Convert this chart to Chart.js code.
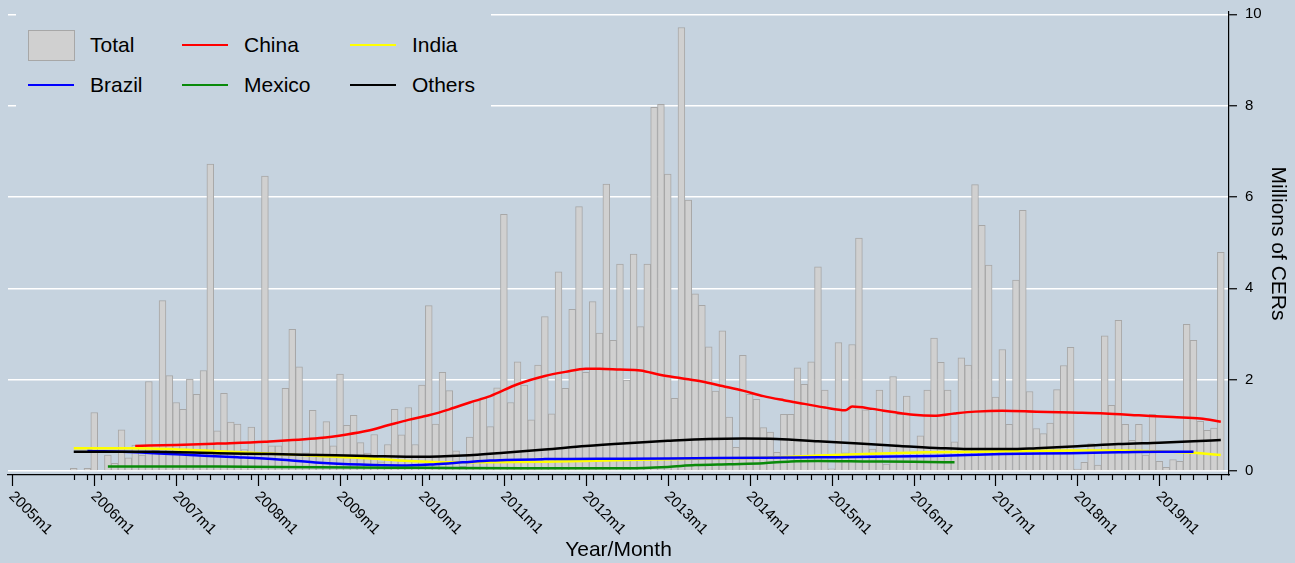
<!DOCTYPE html>
<html>
<head>
<meta charset="utf-8">
<title>CERs by month</title>
<script src="https://cdn.jsdelivr.net/npm/chart.js@4.4.1/dist/chart.umd.min.js"></script>
<style>
  body { margin: 0; background: #c6d3df; font-family: "Liberation Sans", Arial, sans-serif; }
  #wrap { position: relative; width: 1295px; height: 563px; }
  #legend { position: absolute; left: 16px; top: 0; width: 475px; height: 110px; background: #c6d3df; }
  .key { position: absolute; }
  .txt { position: absolute; font-size: 21px; line-height: 24px; color: #000; white-space: nowrap; }
</style>
</head>
<body>
<div id="wrap">
  <canvas id="cerChart" width="1295" height="563"></canvas>
  <div id="legend"></div>
</div>
<script>
// month index: 0 = 2005m1
const totalStart = 9; // 2005m10
const total = [
  0.06, null, 0.06, 1.28, null, 0.35, 0.17, 0.9, 0.29, 0.57, 0.35, 1.96, 0.45, 3.73, 2.09,
  1.5, 1.35, 2.01, 1.68, 2.2, 6.72, 0.88, 1.7, 1.07, 1.03, 0.47, 0.96, 0.4, 6.46, 0.55,
  0.55, 1.81, 3.1, 2.28, 0.4, 1.33, 0.72, 1.08, 0.55, 2.12, 1.0, 1.22, 0.62, 0.39, 0.8,
  0.2, 0.58, 1.35, 0.79, 1.39, 0.58, 1.88, 3.62, 1.03, 2.16, 1.76, 0.44, 0.1, 0.74, 1.54,
  1.6, 0.97, 1.82, 5.62, 1.5, 2.39, 1.88, 1.12, 2.32, 3.38, 1.25, 4.36, 1.81, 3.54, 5.79,
  2.16, 3.71, 3.02, 6.28, 2.86, 4.53, 1.99, 4.75, 3.16, 4.53, 7.96, 8.03, 6.5, 1.59, 9.71,
  5.93, 3.88, 3.63, 2.72, 1.75, 3.07, 1.18, 0.52, 2.53, 1.68, 1.57, 0.95, 0.85, 0.41, 1.24,
  1.24, 2.26, 1.9, 2.39, 4.47, 1.77, 0.05, 2.81, 0.4, 2.77, 5.1, 1.34, 0.48, 1.77, 0.15,
  2.07, 1.24, 1.64, 0.42, 0.77, 1.77, 2.91, 2.38, 1.77, 0.64, 2.48, 2.32, 6.27, 5.38, 4.51,
  1.62, 2.66, 1.02, 4.18, 5.71, 1.74, 0.93, 0.82, 1.05, 1.78, 2.31, 2.71, 0.04, 0.19, 0.6,
  0.13, 2.96, 1.44, 3.3, 1.02, 0.67, 1.02, 0.35, 1.24, 0.21, 0.08, 0.25, 0.21, 3.21, 2.86,
  1.09, 0.89, 0.94, 4.79
];

// [month index, value]
const china = [
  [18, 0.55], [24, 0.57], [30, 0.6], [37, 0.64], [45, 0.72], [49, 0.8], [52, 0.88], [55, 1.0],
  [58, 1.12], [61, 1.22], [64, 1.35], [67, 1.5], [70, 1.64], [74, 1.9], [78, 2.08], [81, 2.17],
  [84, 2.24], [86, 2.24], [89, 2.22], [92, 2.2], [95, 2.1], [98, 2.03], [101, 1.96], [104, 1.86],
  [107, 1.76], [110, 1.64], [113, 1.55], [116, 1.47], [119, 1.39], [122, 1.33], [123, 1.41],
  [126, 1.36], [129, 1.29], [132, 1.23], [135, 1.21], [138, 1.26], [141, 1.3], [145, 1.32],
  [150, 1.3], [155, 1.28], [160, 1.26], [165, 1.22], [170, 1.18], [174, 1.15], [177, 1.08]
];
const india = [
  [9, 0.5], [18, 0.5], [28, 0.45], [38, 0.38], [45, 0.33], [52, 0.28], [58, 0.22], [64, 0.19],
  [70, 0.19], [78, 0.2], [90, 0.24], [100, 0.27], [110, 0.29], [118, 0.34], [126, 0.38],
  [134, 0.41], [145, 0.43], [155, 0.45], [162, 0.45], [168, 0.43], [173, 0.4], [177, 0.35]
];
const brazil = [
  [11, 0.44], [18, 0.41], [26, 0.35], [33, 0.3], [39, 0.25], [45, 0.18], [51, 0.14], [57, 0.12],
  [62, 0.15], [66, 0.19], [70, 0.23], [78, 0.26], [90, 0.27], [100, 0.28], [110, 0.29],
  [118, 0.3], [126, 0.31], [135, 0.33], [145, 0.37], [155, 0.39], [162, 0.41], [168, 0.42], [173, 0.42]
];
const mexico = [
  [14, 0.1], [30, 0.1], [45, 0.08], [60, 0.07], [75, 0.06], [90, 0.06], [96, 0.09], [100, 0.13],
  [105, 0.15], [110, 0.17], [114, 0.21], [118, 0.22], [125, 0.21], [132, 0.2], [138, 0.19]
];
const others = [
  [9, 0.42], [20, 0.42], [30, 0.39], [38, 0.37], [45, 0.35], [52, 0.33], [60, 0.31], [66, 0.34],
  [72, 0.4], [78, 0.47], [84, 0.55], [90, 0.61], [96, 0.66], [102, 0.7], [107, 0.71], [112, 0.7],
  [118, 0.65], [124, 0.6], [130, 0.55], [136, 0.5], [140, 0.48], [146, 0.48], [150, 0.5],
  [156, 0.54], [162, 0.59], [168, 0.62], [173, 0.65], [177, 0.68]
];

const yearTicks = [0, 12, 24, 36, 48, 60, 72, 84, 96, 108, 120, 132, 144, 156, 168];
const yearLabels = ['2005m1', '2006m1', '2007m1', '2008m1', '2009m1', '2010m1', '2011m1', '2012m1',
  '2013m1', '2014m1', '2015m1', '2016m1', '2017m1', '2018m1', '2019m1'];
const yTicks = [0, 2, 4, 6, 8, 10];

const FONT = '"Liberation Sans", Arial, Helvetica, sans-serif';
Chart.defaults.font.family = FONT;
Chart.defaults.color = '#000';

const minorTicks = [];
for (let m = totalStart; m <= totalStart + total.length - 1; m += 2) minorTicks.push(m);

function toPoints(pairs) {
  return pairs.map(p => ({ x: p[0], y: p[1] }));
}
function lineSet(label, pairs, color) {
  return {
    type: 'line', label: label, data: toPoints(pairs),
    borderColor: color, borderWidth: 2.5, pointRadius: 0,
    cubicInterpolationMode: 'monotone', fill: false
  };
}

const xAxisMarks = {
  id: 'xAxisMarks',
  afterDraw(chart) {
    const ctx = chart.ctx;
    const x = chart.scales.x;
    const y0 = x.top;
    ctx.save();
    ctx.strokeStyle = '#000';
    ctx.lineWidth = 1.2;
    ctx.beginPath();
    minorTicks.forEach(m => {
      const px = Math.round(x.getPixelForValue(m)) + 0.5;
      ctx.moveTo(px, y0); ctx.lineTo(px, y0 + 5);
    });
    yearTicks.forEach(m => {
      const px = Math.round(x.getPixelForValue(m)) + 0.5;
      ctx.moveTo(px, y0); ctx.lineTo(px, y0 + 11);
    });
    ctx.stroke();
    ctx.fillStyle = '#000';
    ctx.font = '15px ' + FONT;
    ctx.textAlign = 'left';
    ctx.textBaseline = 'middle';
    yearTicks.forEach((m, i) => {
      const px = x.getPixelForValue(m);
      ctx.save();
      ctx.translate(px - 1, y0 + 19);
      ctx.rotate(Math.PI / 4);
      ctx.fillText(yearLabels[i], 0, 0);
      ctx.restore();
    });
    ctx.restore();
  }
};

const ctx = document.getElementById('cerChart').getContext('2d');
new Chart(ctx, {
  type: 'bar',
  data: {
    datasets: [
      lineSet('Others', others, '#000000'),
      lineSet('Mexico', mexico, '#0a8a0a'),
      lineSet('Brazil', brazil, '#0000ff'),
      lineSet('India', india, '#ffff00'),
      lineSet('China', china, '#ff0000'),
      {
        type: 'bar', label: 'Total',
        data: total.map((v, i) => ({ x: totalStart + i, y: v })),
        backgroundColor: '#d0d0d0', borderColor: '#a7a7a7', borderWidth: 1,
        barPercentage: 1, categoryPercentage: 1
      }
    ]
  },
  options: {
    responsive: false,
    animation: false,
    devicePixelRatio: 1,
    layout: { padding: { left: 8, top: 12, right: 0, bottom: 0 } },
    plugins: { legend: { display: false }, tooltip: { enabled: false } },
    scales: {
      x: {
        type: 'linear', min: -0.63, max: 178.2, offset: false,
        grid: { display: false },
        border: { display: true, color: '#000', width: 1.2 },
        ticks: { display: false },
        title: { display: true, text: 'Year/Month', font: { size: 21 }, color: '#000', padding: 0 },
        afterFit: s => { s.height = 88; s.paddingLeft = 0; s.paddingRight = 0; }
      },
      y: {
        position: 'right', min: -0.0876, max: 10.05,
        afterBuildTicks: s => { s.ticks = yTicks.map(v => ({ value: v })); },
        grid: { color: '#ffffff', lineWidth: 1.5, tickColor: '#000', tickLength: 8, tickWidth: 1.2 },
        border: { display: true, color: '#000', width: 1.2 },
        ticks: { font: { size: 15 }, color: '#000', padding: 8 },
        title: { display: true, text: 'Millions of CERs', font: { size: 21 }, color: '#000', padding: { top: 5, bottom: 0 } },
        afterFit: s => { s.width = 66; s.paddingTop = 0; s.paddingBottom = 0; }
      }
    }
  },
  plugins: [xAxisMarks]
});

// legend laid out as a 3 x 2 grid like the original
const legendItems = [
  { label: 'Total', color: null },
  { label: 'China', color: '#ff0000' },
  { label: 'India', color: '#ffff00' },
  { label: 'Brazil', color: '#0000ff' },
  { label: 'Mexico', color: '#0a8a0a' },
  { label: 'Others', color: '#000000' }
];
const legendCols = [12, 166, 334];
const legendRows = [45, 85];
const legendEl = document.getElementById('legend');
legendItems.forEach((item, i) => {
  const left = legendCols[i % 3];
  const cy = legendRows[Math.floor(i / 3)];
  const key = document.createElement('div');
  key.className = 'key';
  if (item.color === null) {
    key.style.cssText = 'left:' + left + 'px;top:' + (cy - 15) + 'px;width:45px;height:29px;background:#d0d0d0;border:1px solid #a7a7a7;';
  } else {
    key.style.cssText = 'left:' + left + 'px;top:' + (cy - 1.25) + 'px;width:46px;height:2.5px;background:' + item.color + ';';
  }
  legendEl.appendChild(key);
  const txt = document.createElement('div');
  txt.className = 'txt';
  txt.style.left = (left + 62) + 'px';
  txt.style.top = (cy - 12) + 'px';
  txt.textContent = item.label;
  legendEl.appendChild(txt);
});
</script>
</body>
</html>
